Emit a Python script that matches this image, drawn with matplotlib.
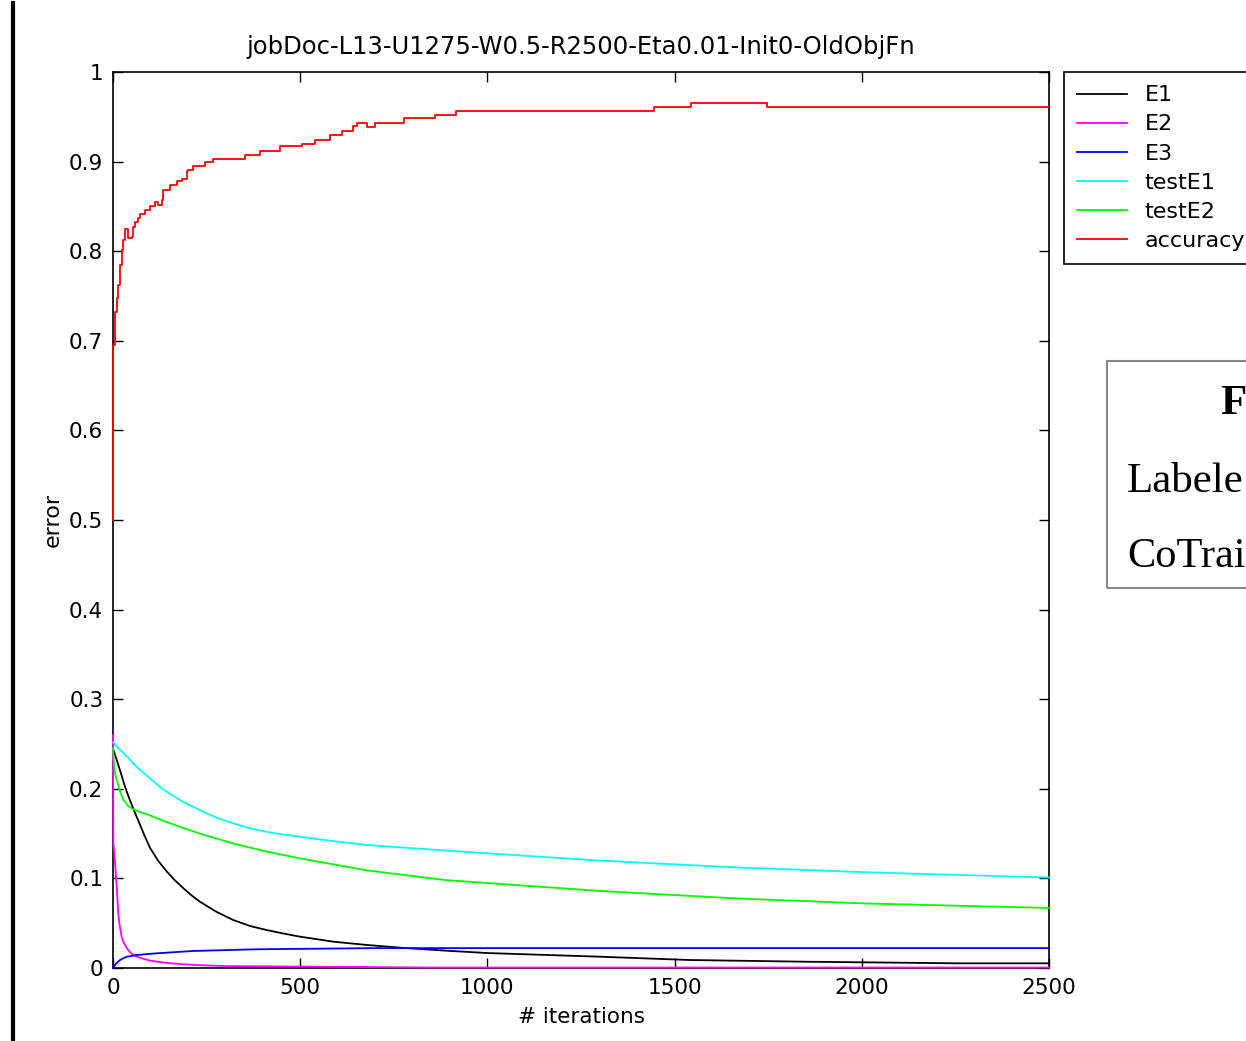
import numpy as np
import matplotlib
matplotlib.use("Agg")
import matplotlib.pyplot as plt
from matplotlib.lines import Line2D
from matplotlib.patches import Rectangle

# ── data ─────────────────────────────────────────────────────────────────────
acc_it = [0, 1, 5, 10, 14, 19, 23, 28, 32, 41, 50, 54, 59, 68, 72, 85, 99, 112,
          121, 130, 134, 152, 170, 183, 197, 201, 214, 246, 268, 352, 393, 446,
          504, 539, 580, 611, 642, 651, 678, 700, 776, 860, 916, 1444, 1544,
          1747, 2500]
acc = [0.5, 0.695, 0.732, 0.748, 0.762, 0.785, 0.801, 0.8125, 0.825, 0.815,
       0.816, 0.827, 0.833, 0.837, 0.842, 0.846, 0.850, 0.855, 0.852, 0.857,
       0.868, 0.874, 0.878, 0.881, 0.889, 0.891, 0.895, 0.899, 0.9025, 0.907,
       0.912, 0.917, 0.920, 0.924, 0.930, 0.934, 0.940, 0.943, 0.939, 0.943,
       0.9485, 0.952, 0.956, 0.9607, 0.965, 0.9614, 0.9614]

e1_it = [0, 10, 20, 30, 40, 54, 70, 85, 99, 120, 143, 165, 188, 210, 232, 275,
         321, 365, 410, 455, 499, 588, 678, 767, 891, 1000, 1301, 1541, 1853,
         2262, 2500]
e1 = [0.245, 0.232, 0.219, 0.205, 0.193, 0.178, 0.162, 0.147, 0.134, 0.12,
      0.108, 0.098, 0.089, 0.081, 0.074, 0.063, 0.0536, 0.047, 0.0424, 0.0385,
      0.035, 0.0294, 0.0257, 0.0227, 0.0193, 0.0167, 0.0126, 0.0089, 0.007,
      0.0052, 0.0052]

e2_it = [0, 1, 5, 10, 14, 18, 23, 28, 37, 45, 54, 75, 99, 140, 187, 240, 294,
         864, 2500]
e2 = [0.26, 0.14, 0.12, 0.0907, 0.061, 0.047, 0.035, 0.029, 0.022, 0.018,
      0.0145, 0.011, 0.0082, 0.0058, 0.0041, 0.003, 0.0022, 0.0005, 0.0005]

e3_it = [0, 8, 19, 28, 37, 63, 117, 214, 384, 704, 2500]
e3 = [0.0, 0.005, 0.0089, 0.011, 0.0126, 0.0145, 0.0164, 0.019, 0.0209, 0.0222,
      0.0222]

te1_it = [0, 20, 40, 54, 75, 99, 120, 143, 185, 232, 275, 321, 365, 410, 455,
          499, 590, 678, 891, 1301, 1657, 2013, 2500]
te1 = [0.252, 0.243, 0.235, 0.2284, 0.220, 0.2117, 0.204, 0.1968, 0.186,
       0.1763, 0.168, 0.1615, 0.156, 0.152, 0.149, 0.1465, 0.1415, 0.1373,
       0.131, 0.1198, 0.1124, 0.1068, 0.101]

te2_it = [0, 3, 6, 10, 18, 28, 40, 54, 100, 143, 190, 232, 321, 410, 499, 678,
          891, 1301, 1657, 2013, 2500]
te2 = [0.245, 0.226, 0.216, 0.21, 0.198, 0.1875, 0.181, 0.177, 0.170, 0.163,
       0.156, 0.150, 0.139, 0.130, 0.1224, 0.109, 0.098, 0.086, 0.0778, 0.072,
       0.067]

TITLE = "jobDoc-L13-U1275-W0.5-R2500-Eta0.01-Init0-OldObjFn"
W, H = 1246, 1041

plt.rcParams['font.family'] = ['DejaVu Sans']

fig = plt.figure(figsize=(W / 100, H / 100), dpi=100, facecolor='white')
ax = fig.add_axes([113 / W, 1 - 968 / H, (1049 - 113) / W, (968 - 72) / H])

lw = 1.3
series = [
    (e1_it, e1, '#000000', 'E1', 'default'),
    (e2_it, e2, '#ff00ff', 'E2', 'default'),
    (e3_it, e3, '#0000ff', 'E3', 'default'),
    (te1_it, te1, '#00ffff', 'testE1', 'default'),
    (te2_it, te2, '#00ff00', 'testE2', 'default'),
    (acc_it, acc, '#ff0000', 'accuracy', 'steps-post'),
]
for xs, ys, col, lab, ds in series:
    ax.plot(xs, ys, color=col, lw=lw, label=lab, drawstyle=ds,
            zorder=3, clip_on=False)

ax.set_xlim(0, 2500)
ax.set_ylim(0, 1)
ax.set_xticks(np.arange(0, 2501, 500))
ax.set_yticks(np.round(np.arange(0, 1.01, 0.1), 1))
ax.set_yticklabels(['0'] + [f'{v:.1f}' for v in np.arange(0.1, 0.95, 0.1)] + ['1'])
ax.tick_params(direction='in', length=7, width=1, top=True, right=True,
               labelsize=15.5, pad=7)
for sp in ax.spines.values():
    sp.set_linewidth(1.2)

ax.set_title(TITLE, fontsize=17.5, pad=13)
ax.set_xlabel('# iterations', fontsize=15.5, labelpad=7)
ax.set_ylabel('error', fontsize=16)
ax.yaxis.set_label_coords(-0.054, 0.5)

leg = ax.legend(loc='upper left', bbox_to_anchor=(1064 / W, 1 - 72 / H),
                bbox_transform=fig.transFigure, borderaxespad=0, fontsize=16,
                frameon=True, fancybox=False, edgecolor='black',
                handlelength=2.25, handletextpad=0.78, labelspacing=0.41,
                borderpad=0.6)
leg.get_frame().set_linewidth(1.2)
leg.get_frame().set_alpha(None)

# thick margin rule on the far left
fig.add_artist(Line2D([13 / W, 13 / W], [0, 1 - 3 / H], transform=fig.transFigure,
                      color='black', lw=3))

# caption box on the right, cropped by the image edge
fig.add_artist(Rectangle((1107 / W, 1 - 588 / H), 200 / W, (588 - 361) / H,
                         transform=fig.transFigure, fill=False,
                         edgecolor='#888888', lw=1.5))
serif = ['Liberation Serif', 'DejaVu Serif']
fig.text(1220 / W, 1 - 414 / H, 'F', family=serif, fontweight='bold',
         fontsize=31, va='baseline', ha='left')
fig.text(1127 / W, 1 - 492 / H, 'Labele', family=serif,
         fontsize=31, va='baseline', ha='left')
fig.text(1127 / W, 1 - 567 / H, 'CoTrai', family=serif,
         fontsize=30.5, va='baseline', ha='left')

fig.savefig('out.png', dpi=100, facecolor='white')
